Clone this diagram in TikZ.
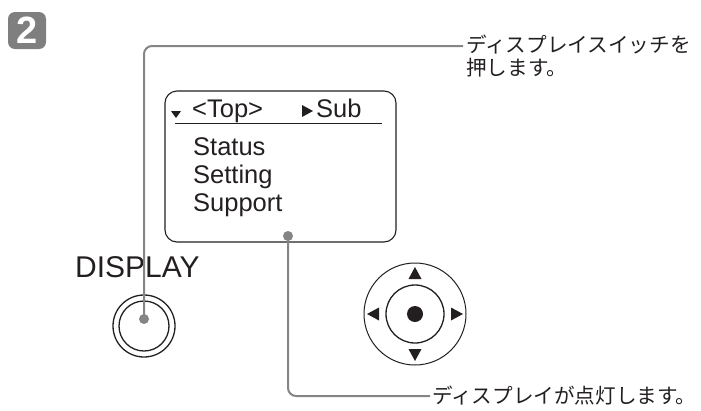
\documentclass[tikz,border=0pt]{standalone}
\usepackage{fontspec}
\setmainfont{Liberation Sans}
\setsansfont{Liberation Sans}
\newfontfamily\jp{Noto Sans CJK JP}
\definecolor{linegray}{HTML}{858585}
\definecolor{badgegray}{HTML}{7F7F7F}
\definecolor{ink}{HTML}{231F20}
\tikzset{
  conn/.style={draw=linegray, line width=2pt, rounded corners=8pt},
  pin/.style={circle, fill=linegray, minimum size=10pt, inner sep=0pt},
  menu/.style={anchor=base west, inner sep=0pt, text=ink, font=\fontsize{25.5}{28}\selectfont},
  jplabel/.style={inner sep=0pt, text=ink, font=\jp\fontsize{20.6}{23.5}\selectfont, align=left},
  ring/.style={circle, draw=ink, inner sep=0pt},
  tri/.style={fill=ink, draw=none},
}
\begin{document}
\begin{tikzpicture}[x=1pt, y=-1pt]
\useasboundingbox (0,0) rectangle (701,410);
% badge
\node[fill=badgegray, rounded corners=7pt, minimum width=38pt, minimum height=37pt, inner sep=0pt,
      text=white, font=\fontsize{38}{38}\selectfont\bfseries] (badge) at (27,30.5) {2};
% screen
\node[draw=ink, line width=1.1pt, rounded corners=12pt, minimum width=231pt, minimum height=151pt, inner sep=0pt] (screen) at (280.5,166.5) {};
\node[menu] (top) at (192,117) {<Top>};
\node[menu] (sub) at (316,117) {Sub};
\node[menu] (status) at (193,155) {Status};
\node[menu] (setting) at (193,183) {Setting};
\node[menu] (support) at (193,211) {Support};
\coordinate (hl) at (175,123);
\coordinate (hr) at (382,123);
\draw[draw=ink, line width=1pt] (hl) -- (hr);
\fill[tri] (171,111) -- (181,111) -- (176,118) -- cycle;
\fill[tri] (302,105) -- (313,111) -- (302,117) -- cycle;
% DISPLAY button
\node[anchor=base west, inner sep=0pt, text=ink, font=\fontsize{30}{30}\selectfont] (displaylbl) at (75,277) {DISPLAY};
\node[ring, line width=1.3pt, minimum size=62pt] (btnout) at (144,326) {};
\node[ring, line width=1.3pt, minimum size=50pt] (btnin) at (144,326) {};
% d-pad
\node[ring, line width=1pt, minimum size=102pt] (padout) at (415,314) {};
\node[ring, line width=1.3pt, minimum size=58pt] (padin) at (415,314) {};
\node[circle, fill=ink, minimum size=16pt, inner sep=0pt] (padc) at (415,314) {};
\fill[tri] (415,267) -- (421.5,279) -- (408.5,279) -- cycle;
\fill[tri] (415,361) -- (421.5,349) -- (408.5,349) -- cycle;
\fill[tri] (367,314) -- (379,307.5) -- (379,320.5) -- cycle;
\fill[tri] (463,314) -- (451,307.5) -- (451,320.5) -- cycle;
% callouts
\node[jplabel, anchor=north west] (txt1) at (466,34.5) {ディスプレイスイッチを\\押します。};
\node[jplabel, anchor=west] (txt2) at (432,396) {ディスプレイが点灯します。};
\coordinate (c1) at (463,46);
\node[pin] (dot1) at (144,319) {};
\draw[conn] (dot1.center) |- (c1);
\node[pin] (dot2) at (288,236) {};
\draw[conn] (dot2.center) |- ([xshift=-2pt]txt2.west);
\end{tikzpicture}
\end{document}
